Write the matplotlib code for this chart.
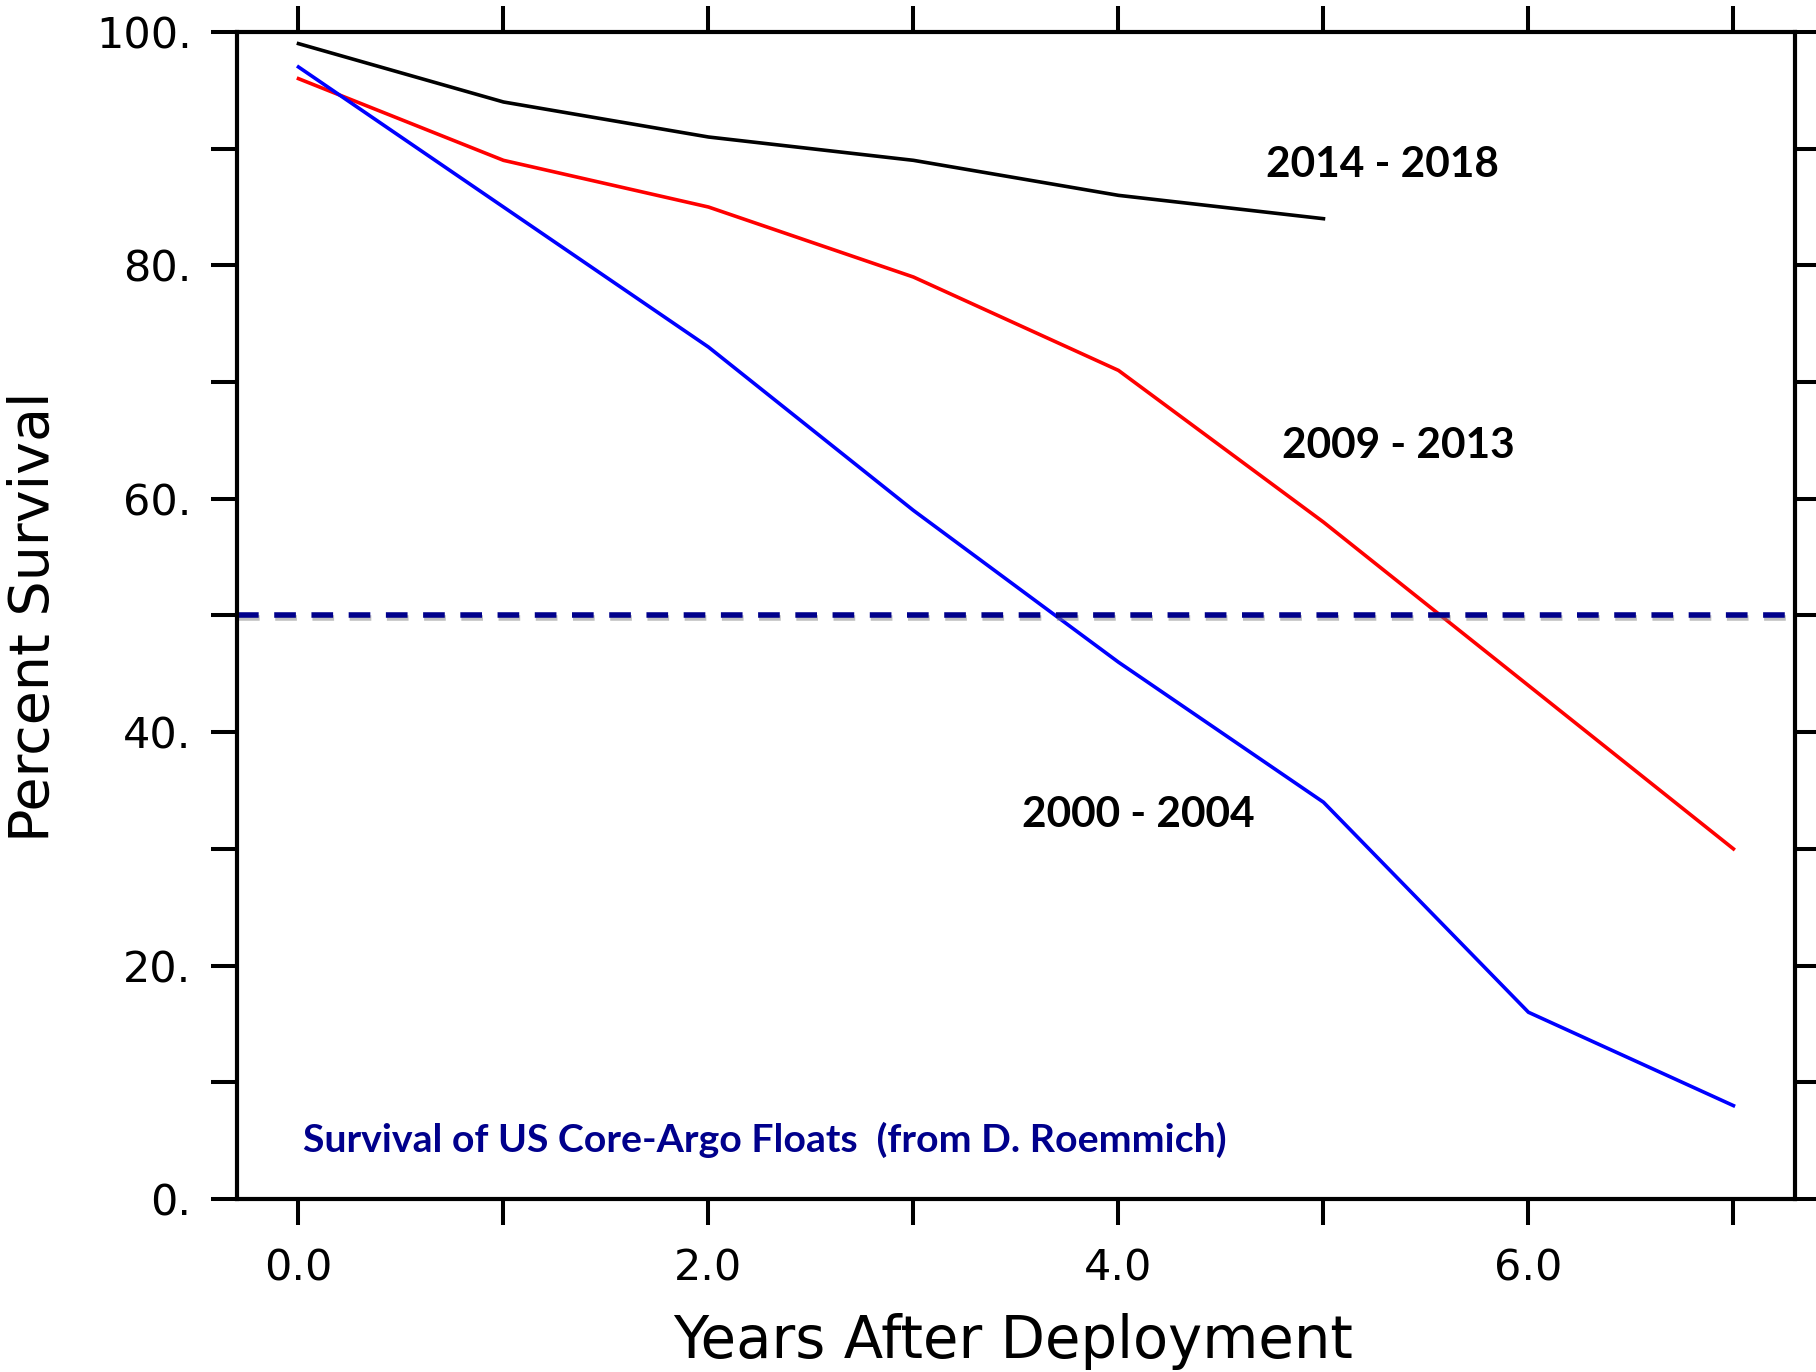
import numpy as np
import matplotlib
matplotlib.use('Agg')
import matplotlib.pyplot as plt
import matplotlib.patheffects as pe
from matplotlib.ticker import MultipleLocator, FixedFormatter, FixedLocator

# years after deployment
years = [0, 1, 2, 3, 4, 5, 6, 7]
# percent survival per deployment cohort
surv_2014 = [99, 94, 91, 89, 86, 84]
surv_2009 = [96, 89, 85, 79, 71, 58, 44, 30]
surv_2000 = [97, 85, 73, 59, 46, 34, 16, 8]

xticks = [0, 2, 4, 6]
xticklabels = ['0.0', '2.0', '4.0', '6.0']
yticks = [0, 20, 40, 60, 80, 100]
yticklabels = ['0.', '20.', '40.', '60.', '80.', '100.']

fig = plt.figure(figsize=(18.16, 13.72), dpi=100)
ax = fig.add_axes([0.1305, 0.1261, 0.8579, 0.8506])

ax.plot(years[:len(surv_2014)], surv_2014, color='black', lw=2.6)
ax.plot(years, surv_2009, color='#ff0000', lw=2.6)
ax.plot(years, surv_2000, color='#0000ff', lw=2.6)

# 50% survival reference line
ax.axhline(50, color='#00008b', lw=4, dashes=(3.9, 2.8),
           path_effects=[pe.SimpleLineShadow(offset=(0.5, -2), shadow_color='grey', alpha=0.5),
                         pe.Normal()])

lab_font = dict(family='Lato', fontweight='bold', fontsize=30.5, color='black', va='center')
ax.text(4.72, 88.6, '2014 - 2018', **lab_font)
ax.text(4.80, 64.5, '2009 - 2013', **lab_font)
ax.text(3.53, 32.9, '2000 - 2004', **lab_font)
ax.text(0.02, 5.1, 'Survival of US Core-Argo Floats  (from D. Roemmich)',
        family='Lato', fontweight='bold', fontsize=28.3, color='#00008c', va='center')

ax.set_xlim(-0.3, 7.3)
ax.set_ylim(0, 100)
ax.xaxis.set_major_locator(FixedLocator(xticks))
ax.xaxis.set_major_formatter(FixedFormatter(xticklabels))
ax.xaxis.set_minor_locator(MultipleLocator(1))
ax.yaxis.set_major_locator(FixedLocator(yticks))
ax.yaxis.set_major_formatter(FixedFormatter(yticklabels))
ax.yaxis.set_minor_locator(MultipleLocator(10))

for s in ax.spines.values():
    s.set_linewidth(3)
ax.tick_params(which='both', direction='out', length=18.7, width=2.9,
               top=True, right=True, labelsize=31)
ax.tick_params(axis='x', which='major', pad=16)
ax.tick_params(axis='y', which='major', pad=14)

ax.set_xlabel('Years After Deployment', fontsize=41.5, va='center')
ax.set_ylabel('Percent Survival', fontsize=40, va='center')
ax.xaxis.set_label_coords(0.498, -0.1217)
ax.yaxis.set_label_coords(-0.1303, 0.499)

fig.savefig('out.png', dpi=100)
